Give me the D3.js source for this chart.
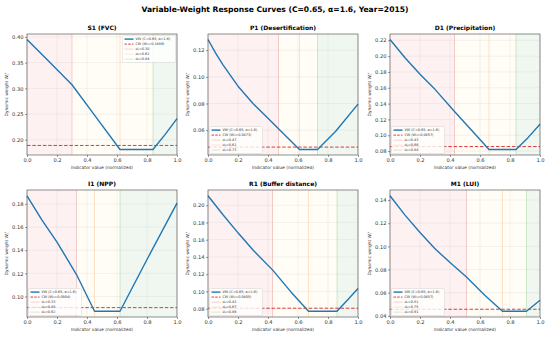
<!DOCTYPE html>
<html>
<head>
<meta charset="utf-8">
<script src="https://cdn.jsdelivr.net/npm/d3@7"></script>
<style>
  body { margin: 0; background: #fff; }
  svg { display: block; font-family: "DejaVu Sans", sans-serif; }
</style>
</head>
<body>
<script>
// values
const names = ["S1 (FVC)", "P1 (Desertification)", "D1 (Precipitation)", "I1 (NPP)", "R1 (Buffer distance)", "M1 (LUI)"];
const thr1 = [0.30, 0.47, 0.43, 0.33, 0.43, 0.51];
const thr2 = [0.62, 0.61, 0.66, 0.45, 0.67, 0.75];
const thr3 = [0.84, 0.73, 0.84, 0.62, 0.86, 0.91];
const w0 = [0.1889, 0.0473, 0.0857, 0.0904, 0.0805, 0.0457];

const s1X = [0, 0.15, 0.30, 0.46, 0.62, 0.84, 0.92, 1.0];
const s1Y = [0.395, 0.351, 0.307, 0.244, 0.181, 0.181, 0.210, 0.241];
const p1X = [0, 0.05, 0.1, 0.2, 0.3, 0.4, 0.47, 0.61, 0.73, 0.85, 1.0];
const p1Y = [0.128, 0.118, 0.109, 0.093, 0.080, 0.069, 0.061, 0.0455, 0.0455, 0.059, 0.0795];
const d1X = [0, 0.1, 0.2, 0.3, 0.43, 0.55, 0.66, 0.84, 0.92, 1.0];
const d1Y = [0.221, 0.198, 0.177, 0.158, 0.130, 0.105, 0.082, 0.082, 0.097, 0.114];
const i1X = [0, 0.1, 0.2, 0.33, 0.45, 0.62, 0.8, 1.0];
const i1Y = [0.187, 0.166, 0.147, 0.119, 0.0873, 0.0873, 0.132, 0.1806];
const r1X = [0, 0.1, 0.2, 0.3, 0.43, 0.55, 0.67, 0.86, 0.93, 1.0];
const r1Y = [0.211, 0.189, 0.168, 0.148, 0.125, 0.100, 0.077, 0.077, 0.090, 0.1033];
const m1X = [0, 0.1, 0.2, 0.3, 0.4, 0.51, 0.63, 0.75, 0.91, 1.0];
const m1Y = [0.1437, 0.127, 0.112, 0.098, 0.086, 0.0735, 0.058, 0.044, 0.044, 0.0535];

const xTicks = [0, 0.2, 0.4, 0.6, 0.8, 1.0];
const yTicks = [
  [0.20, 0.25, 0.30, 0.35, 0.40],
  [0.06, 0.08, 0.10, 0.12],
  [0.08, 0.10, 0.12, 0.14, 0.16, 0.18, 0.20, 0.22],
  [0.10, 0.12, 0.14, 0.16, 0.18],
  [0.08, 0.10, 0.12, 0.14, 0.16, 0.18, 0.20],
  [0.04, 0.06, 0.08, 0.10, 0.12, 0.14]
];
const legendPos = ["right", "left", "left", "left", "left", "left"];

const curvesX = [s1X, p1X, d1X, i1X, r1X, m1X];
const curvesY = [s1Y, p1Y, d1Y, i1Y, r1Y, m1Y];

const width = 550, height = 337;
const colLeft = [27, 208, 390], colW = 150;
const rowTop = [34, 190], rowH = [121, 127];

const svg = d3.select("body").append("svg")
    .attr("width", width)
    .attr("height", height);

svg.append("text")
    .attr("x", width / 2).attr("y", 12)
    .attr("text-anchor", "middle")
    .attr("font-size", 7.6).attr("font-weight", "bold")
    .text("Variable-Weight Response Curves (C=0.65, α=1.6, Year=2015)");

names.forEach((name, k) => {
  const left = colLeft[k % 3], top = rowTop[Math.floor(k / 3)], h = rowH[Math.floor(k / 3)];
  const pts = curvesX[k].map((x, i) => [x, curvesY[k][i]]);
  const ext = d3.extent(curvesY[k].concat([w0[k]]));
  const pad = (ext[1] - ext[0]) * 0.05;

  const x = d3.scaleLinear([0, 1], [0, colW]);
  const y = d3.scaleLinear([ext[0] - pad, ext[1] + pad], [h, 0]);

  const g = svg.append("g").attr("transform", `translate(${left},${top})`);

  // zones
  const zones = [
    [0, thr1[k], "rgba(240,60,60,0.07)"],
    [thr1[k], thr3[k], "rgba(255,220,80,0.06)"],
    [thr3[k], 1, "rgba(40,140,40,0.07)"]
  ];
  g.selectAll("rect.zone").data(zones).join("rect")
      .attr("x", d => x(d[0])).attr("y", 0)
      .attr("width", d => x(d[1]) - x(d[0])).attr("height", h)
      .attr("fill", d => d[2]);

  // grid
  g.append("g").selectAll("line").data(xTicks).join("line")
      .attr("x1", d => x(d)).attr("x2", d => x(d))
      .attr("y1", 0).attr("y2", h)
      .attr("stroke", "#b0b0b0").attr("stroke-width", 0.3).attr("stroke-opacity", 0.5);
  g.append("g").selectAll("line").data(yTicks[k]).join("line")
      .attr("y1", d => y(d)).attr("y2", d => y(d))
      .attr("x1", 0).attr("x2", colW)
      .attr("stroke", "#b0b0b0").attr("stroke-width", 0.3).attr("stroke-opacity", 0.5);

  // threshold lines
  const th = [[thr1[k], "#d62728"], [thr2[k], "#ff7f0e"], [thr3[k], "#2ca02c"]];
  g.selectAll("line.th").data(th).join("line")
      .attr("x1", d => x(d[0])).attr("x2", d => x(d[0]))
      .attr("y1", 0).attr("y2", h)
      .attr("stroke", d => d[1]).attr("stroke-width", 0.7).attr("stroke-opacity", 0.3);

  // CW line
  g.append("line")
      .attr("x1", 0).attr("x2", colW)
      .attr("y1", y(w0[k])).attr("y2", y(w0[k]))
      .attr("stroke", "#d62728").attr("stroke-width", 0.9)
      .attr("stroke-dasharray", "3.5,1.8");

  // VW curve
  g.append("path")
      .datum(pts)
      .attr("fill", "none")
      .attr("stroke", "#1f77b4").attr("stroke-width", 1.4)
      .attr("stroke-linejoin", "round")
      .attr("d", d3.line().x(d => x(d[0])).y(d => y(d[1])));

  // axes
  const xAxis = g.append("g")
      .attr("transform", `translate(0,${h})`)
      .call(d3.axisBottom(x).tickValues(xTicks).tickFormat(d3.format(".1f")).tickSize(2).tickPadding(1.5));
  const yAxis = g.append("g")
      .call(d3.axisLeft(y).tickValues(yTicks[k]).tickFormat(d3.format(".2f")).tickSize(2).tickPadding(1.5));
  [xAxis, yAxis].forEach(a => {
    a.select(".domain").remove();
    a.selectAll("text").attr("font-size", 5.2).attr("fill", "#333").attr("font-family", "DejaVu Sans");
    a.selectAll("line").attr("stroke", "#333").attr("stroke-width", 0.5);
  });

  g.append("rect")
      .attr("width", colW).attr("height", h)
      .attr("fill", "none").attr("stroke", "#444").attr("stroke-width", 0.6);

  g.append("text")
      .attr("x", colW / 2).attr("y", -4)
      .attr("text-anchor", "middle")
      .attr("font-size", 6).attr("font-weight", "bold")
      .text(name);

  g.append("text")
      .attr("x", colW / 2).attr("y", h + 14)
      .attr("text-anchor", "middle")
      .attr("font-size", 4.4).attr("fill", "#333")
      .text("Indicator value (normalized)");

  const yl = g.append("text")
      .attr("transform", `translate(-19,${h / 2}) rotate(-90)`)
      .attr("text-anchor", "middle")
      .attr("font-size", 4.4).attr("fill", "#333");
  yl.append("tspan").text("Dynamic weight W");
  yl.append("tspan").attr("font-size", 3.2).attr("dy", 1).text("i");
  yl.append("tspan").attr("font-size", 3.2).attr("dy", -2.5).text("*");

  // legend
  const lw = 53, lh = 27;
  const lx = legendPos[k] === "right" ? colW - lw - 1.5 : 1.5;
  const ly = legendPos[k] === "right" ? 1.5 : h - lh - 1.5;
  const lg = g.append("g").attr("transform", `translate(${lx},${ly})`);
  lg.append("rect")
      .attr("width", lw).attr("height", lh).attr("rx", 1)
      .attr("fill", "#fff").attr("fill-opacity", 0.8)
      .attr("stroke", "#ccc").attr("stroke-width", 0.4);
  const items = [
    {label: "VW (C=0.65, α=1.6)", color: "#1f77b4", w: 1.4, dash: null, op: 1},
    {label: `CW (W₀=${w0[k].toFixed(4)})`, color: "#d62728", w: 0.9, dash: "2.5,1.2", op: 1},
    {label: `d₁=${thr1[k].toFixed(2)}`, color: "#d62728", w: 0.6, dash: null, op: 0.35},
    {label: `d₂=${thr2[k].toFixed(2)}`, color: "#ff7f0e", w: 0.6, dash: null, op: 0.35},
    {label: `d₃=${thr3[k].toFixed(2)}`, color: "#2ca02c", w: 0.6, dash: null, op: 0.35}
  ];
  items.forEach((it, i) => {
    const yy = 3.6 + i * 5;
    lg.append("line")
        .attr("x1", 2).attr("x2", 11).attr("y1", yy).attr("y2", yy)
        .attr("stroke", it.color).attr("stroke-width", it.w)
        .attr("stroke-opacity", it.op)
        .attr("stroke-dasharray", it.dash);
    lg.append("text")
        .attr("x", 13).attr("y", yy + 1.2)
        .attr("font-size", 3.4).attr("fill", "#333")
        .text(it.label);
  });
});
</script>
</body>
</html>
